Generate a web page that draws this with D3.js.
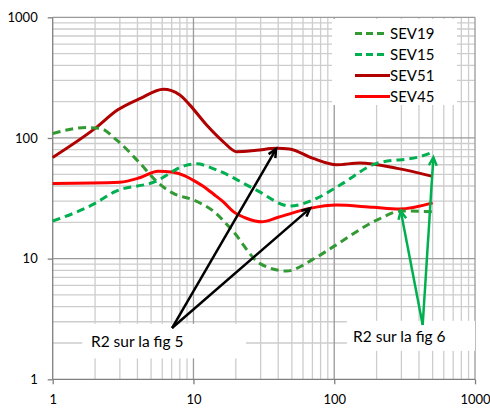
<!DOCTYPE html>
<html><head><meta charset="utf-8">
<script src="https://cdn.jsdelivr.net/npm/d3@7"></script>
<style>body{margin:0;background:#fff}svg{display:block}text{font-family:Lato,"Open Sans",sans-serif;fill:#000}</style>
</head><body><svg id="c" width="490" height="412"></svg>
<script>
// ---- data ----
const seriesNames = ["SEV19","SEV15","SEV51","SEV45"];
const sev19X = [1, 1.74, 2.17, 2.85, 4.17, 5.5, 7.2, 10, 14, 19.2, 29.7, 46, 70, 100, 206, 300, 500];
const sev19Y = [109, 122, 120, 96, 61.7, 43.4, 34.7, 30.6, 24.5, 16.7, 9.1, 7.9, 9.8, 12.7, 21.2, 24.8, 24.5];
const sev15X = [1, 2, 2.77, 5.33, 8.7, 10.5, 14.6, 28, 48.5, 75, 110, 200, 406, 500];
const sev15Y = [20.5, 28.7, 35.9, 43.4, 59, 61, 54.3, 37, 27.3, 31.6, 40.7, 61.6, 70, 76];
const sev51X = [1, 2, 2.9, 4.2, 6.1, 8, 9.4, 12.4, 16.3, 20.3, 28, 39, 48, 70, 104, 152, 280, 500];
const sev51Y = [69, 120, 171, 213, 253, 227, 188, 128, 93, 77, 79, 82, 81, 68, 60, 62, 56, 48];
const sev45X = [1, 3, 4.2, 5.6, 7.2, 8.7, 10, 12.4, 14, 16.3, 19.2, 24, 30.5, 40, 67, 104, 190, 290, 500];
const sev45Y = [42, 43, 47, 53, 52, 48.5, 44.5, 38, 34, 29.5, 24.5, 21.5, 20.2, 22, 26.1, 27.8, 26.6, 25.8, 29];
const xTicks = [1, 10, 100, 1000];
const yTicks = [1, 10, 100, 1000];
const xTickLabels = ["1","10","100","1000"];
const yTickLabels = ["1","10","100","1000"];
const annoLabels = ["R2 sur la  fig 5", "R2 sur la fig 6"];
// arrows: [fromX, fromY, toX, toY] in data units
const blackArrows = [[7.04, 2.66, 38.6, 80.9], [7.04, 2.66, 67.3, 26.1]];
const greenArrows = [[425, 2.82, 297, 24.8], [425, 2.82, 506, 69]];

// ---- layout ----
const svg = d3.select("#c");
const L = 52.7, R = 475, T = 17.3, B = 379.3;
const x = d3.scaleLog().domain([1,1000]).range([L,R]);
const y = d3.scaleLog().domain([1,1000]).range([B,T]);
const colors = {SEV19:"#339933", SEV15:"#00b050", SEV51:"#b00000", SEV45:"#ff0000"};
const dashed = {SEV19:true, SEV15:true, SEV51:false, SEV45:false};

// minor grid
const minors = [];
for (let d of [1,10,100]) for (let k=2;k<=9;k++) minors.push(d*k);
const g = svg.append("g");
g.selectAll(".vx").data(minors).enter().append("line")
  .attr("x1",d=>x(d)).attr("x2",d=>x(d)).attr("y1",T).attr("y2",B)
  .attr("stroke","#cdcdcd").attr("stroke-width",1.3);
g.selectAll(".hy").data(minors).enter().append("line")
  .attr("y1",d=>y(d)).attr("y2",d=>y(d)).attr("x1",L).attr("x2",R)
  .attr("stroke","#cdcdcd").attr("stroke-width",1.3);
// major grid
g.selectAll(".vmx").data(xTicks).enter().append("line")
  .attr("x1",d=>x(d)).attr("x2",d=>x(d)).attr("y1",T).attr("y2",B)
  .attr("stroke",d=>d===1?"#7f7f7f":"#9a9a9a").attr("stroke-width",1.3);
g.selectAll(".hmy").data(yTicks).enter().append("line")
  .attr("y1",d=>y(d)).attr("y2",d=>y(d)).attr("x1",L).attr("x2",R)
  .attr("stroke",d=>d===1?"#7f7f7f":"#9a9a9a").attr("stroke-width",1.3);

// axes
const xAxis = d3.axisBottom(x).tickValues(xTicks).tickFormat((d,i)=>xTickLabels[i]).tickSize(5).tickPadding(10);
const yAxis = d3.axisLeft(y).tickValues(yTicks).tickFormat((d,i)=>yTickLabels[i]).tickSize(5).tickPadding(10);
const gx = svg.append("g").attr("transform",`translate(0,${B})`).call(xAxis);
const gy = svg.append("g").attr("transform",`translate(${L},0)`).call(yAxis);
[gx,gy].forEach(a=>{
  a.select(".domain").remove();
  a.selectAll("line").attr("stroke","#7f7f7f").attr("stroke-width",1.3);
  a.selectAll("text").style("font-family","Lato").style("font-size","13px").attr("fill","#000");
});

// annotation boxes (behind curves)
const box5 = {x0:1.62, x1:23.6, y0:1.49, y1:2.88};
const box6 = {x0:123, x1:1000, y0:1.72, y1:3.05};
[box5, box6].forEach(b=>{
  svg.append("rect").attr("x",x(b.x0)).attr("y",y(b.y1))
    .attr("width",x(b.x1)-x(b.x0)).attr("height",y(b.y0)-y(b.y1)).attr("fill","#fff");
});

// legend box
svg.append("rect").attr("x",332).attr("y",19).attr("width",125).attr("height",86).attr("fill","#fff");

// curves
const line = d3.line().x(d=>x(d[0])).y(d=>y(d[1])).curve(d3.curveMonotoneX);
const seriesData = {
  SEV19: sev19X.map((v,i)=>[v,sev19Y[i]]),
  SEV15: sev15X.map((v,i)=>[v,sev15Y[i]]),
  SEV51: sev51X.map((v,i)=>[v,sev51Y[i]]),
  SEV45: sev45X.map((v,i)=>[v,sev45Y[i]])
};
["SEV45","SEV51","SEV19","SEV15"].forEach(n=>{
  svg.append("path").attr("d",line(seriesData[n])).attr("fill","none")
    .attr("stroke",colors[n]).attr("stroke-width",3)
    .attr("stroke-dasharray",dashed[n]?"8,5":null);
});

// legend
seriesNames.forEach((n,i)=>{
  const yy = 33.5 + i*21;
  svg.append("line").attr("x1",355).attr("x2",dashed[n]?384:390).attr("y1",yy).attr("y2",yy)
    .attr("stroke",colors[n]).attr("stroke-width",3).attr("stroke-dasharray",dashed[n]?"7,4":null);
  svg.append("text").attr("x",390).attr("y",yy).attr("dy","0.36em")
    .style("font-size","15px").text(n);
});

// arrows
function arrow(a, col){
  const x0=x(a[0]), y0=y(a[1]), x1=x(a[2]), y1=y(a[3]);
  svg.append("line").attr("x1",x0).attr("y1",y0).attr("x2",x1).attr("y2",y1)
    .attr("stroke",col).attr("stroke-width",2.5);
  const ang = Math.atan2(y1-y0, x1-x0), len=9, spread=0.45;
  const p1=[x1-len*Math.cos(ang-spread), y1-len*Math.sin(ang-spread)];
  const p2=[x1-len*Math.cos(ang+spread), y1-len*Math.sin(ang+spread)];
  svg.append("path").attr("d",`M${p1[0]},${p1[1]}L${x1},${y1}L${p2[0]},${p2[1]}`)
    .attr("fill","none").attr("stroke",col).attr("stroke-width",2.5);
}
blackArrows.forEach(a=>arrow(a,"#000"));
greenArrows.forEach(a=>arrow(a,"#00b050"));

// annotation text
svg.append("text").attr("x",x(1.87)).attr("y",y(2.05)).attr("dy","0.36em")
  .style("font-size","15.5px").text(annoLabels[0]);
svg.append("text").attr("x",x(136)).attr("y",y(2.25)).attr("dy","0.36em")
  .style("font-size","15.5px").text(annoLabels[1]);
</script></body></html>
